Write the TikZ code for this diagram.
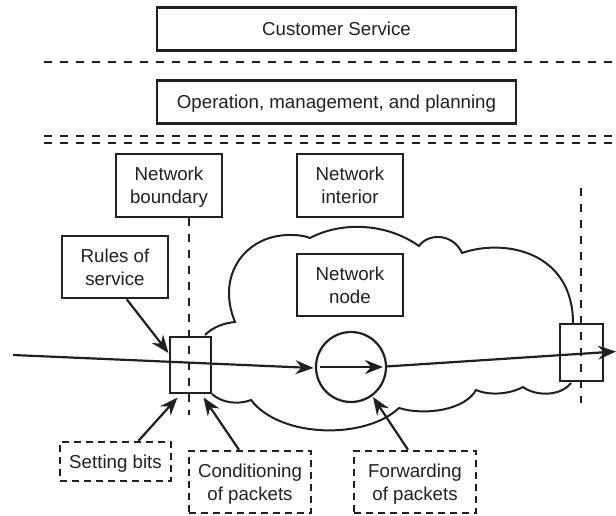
\documentclass[tikz,border=0pt]{standalone}
\usepackage{fontspec}
\setmainfont{Liberation Sans}
\usetikzlibrary{arrows.meta}
\definecolor{ink}{HTML}{231F20}
\tikzset{
  solidbox/.style={draw=ink,line width=2.6pt,inner sep=0pt,align=center,text=ink,font=\fontsize{18.7}{23}\selectfont},
  dashbox/.style={solidbox,line width=2.4pt,dash pattern=on 7pt off 5pt},
  divider/.style={draw=ink,line width=2.6pt,dash pattern=on 8pt off 8pt},
  vdash/.style={draw=ink,line width=2.4pt,dash pattern=on 7.5pt off 8.5pt},
  flow/.style={draw=ink,line width=2.2pt,-{Stealth[length=18pt,width=14pt,inset=6pt]}},
  cloudline/.style={draw=ink,line width=2pt}
}
\begin{document}
\begin{tikzpicture}[x=1pt,y=-1pt]
\useasboundingbox (0,0) rectangle (616,515);
% cloud
\draw[cloudline] (205,335)
  .. controls (213,327) and (224,323) .. (235,322)
  .. controls (231,312) and (229,303) .. (229,293)
  .. controls (229,260) and (255,234) .. (292,235)
  .. controls (299,235) and (305,236) .. (310,238)
  .. controls (340,222) and (385,222) .. (419,246)
  .. controls (428,233) and (453,233) .. (462,253)
  .. controls (505,238) and (573,252) .. (573,323);
\draw[cloudline] (212,394)
  .. controls (222,403) and (238,405) .. (251,400)
  .. controls (280,438) and (365,440) .. (399,408)
  .. controls (425,416) and (465,410) .. (476,390)
  .. controls (490,396) and (510,394) .. (523,387)
  .. controls (535,396) and (560,397) .. (571,383);
% dividers
\coordinate (d1a) at (44,62); \coordinate (d1b) at (616,62);
\coordinate (d2a) at (44,136); \coordinate (d2b) at (616,136);
\coordinate (d3a) at (44,143); \coordinate (d3b) at (616,143);
\draw[divider] (d1a) -- (d1b);
\draw[divider] (d2a) -- (d2b);
\draw[divider] (d3a) -- (d3b);
% boxes
\node[solidbox,minimum width=359pt,minimum height=43pt] (cs) at (336.5,29) {Customer Service};
\node[solidbox,minimum width=359pt,minimum height=43pt,text depth=0pt] (omp) at (336.5,102) {Operation, management, and planning};
\node[solidbox,minimum width=106pt,minimum height=63pt,text depth=0pt] (nb) at (169,185.5) {Network\\boundary};
\node[solidbox,minimum width=106pt,minimum height=63pt] (ni) at (350,185.5) {Network\\interior};
\node[solidbox,minimum width=106pt,minimum height=62pt] (rs) at (115,267) {Rules of\\service};
\node[solidbox,minimum width=106pt,minimum height=62pt] (nn) at (350,285) {Network\\node};
\node[solidbox,minimum width=41pt,minimum height=56pt] (bl) at (190.5,365) {};
\node[solidbox,minimum width=43pt,minimum height=57pt] (br) at (581.5,352.5) {};
\node[draw=ink,line width=2.2pt,circle,minimum size=70pt,inner sep=0pt] (nc) at (351,367) {};
\node[dashbox,minimum width=111pt,minimum height=39pt,text depth=0pt] (sb) at (115.5,461.5) {Setting bits};
\node[dashbox,minimum width=122pt,minimum height=62pt,text depth=0pt] (cp) at (250,482) {Conditioning\\of packets};
\node[dashbox,minimum width=122pt,minimum height=62pt,text depth=0pt] (fp) at (415,482) {Forwarding\\of packets};
% vertical dashed lines
\coordinate (vl) at (189,415); \coordinate (rt) at (581,188); \coordinate (rb) at (581,403);
\draw[vdash] (nb.south -| vl) -- (vl);
\draw[vdash] (rt) -- (rb);
% flow
\coordinate (inp) at (13,355); \coordinate (t0) at (313.5,368);
\coordinate (c1) at (320,367); \coordinate (c2) at (383,367);
\coordinate (c3) at (386,366.5); \coordinate (outp) at (616,351.5);
\draw[flow] (inp) -- (t0);
\draw[flow] (c1) -- (c2);
\draw[flow] (c3) -- (outp);
% annotation arrows
\coordinate (t1) at (168.5,353); \coordinate (t2) at (177.5,397.5);
\coordinate (t3) at (203.5,397.5); \coordinate (t4) at (373,397);
\draw[flow] (rs.-70.5) -- (t1);
\draw[flow] (sb.42) -- (t2);
\draw[flow] (cp.north -| 239,0) -- (t3);
\draw[flow] (fp.north -| 408,0) -- (t4);
\end{tikzpicture}
\end{document}
